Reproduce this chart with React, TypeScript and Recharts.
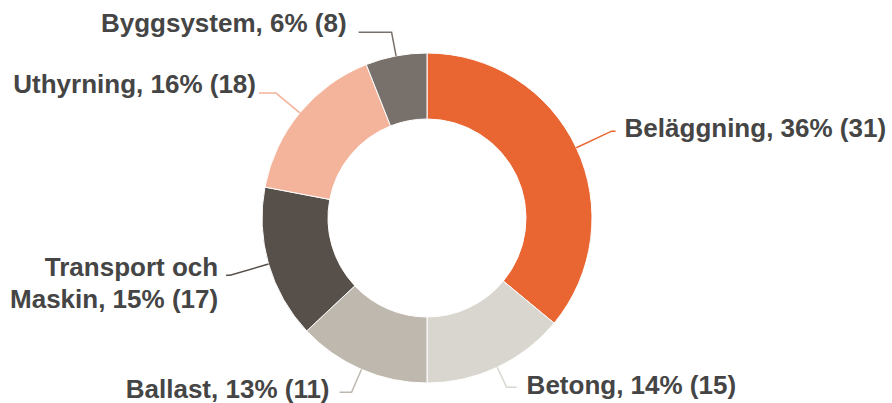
import { PieChart, Pie, Cell } from 'recharts';

const categories = ['Beläggning', 'Betong', 'Ballast', 'Transport och Maskin', 'Uthyrning', 'Byggsystem'];
const shares = [36, 14, 13, 15, 16, 6];
const counts = [31, 15, 11, 17, 18, 8];
const colors = ['#E96633', '#D9D5CF', '#BFB8AE', '#564F4A', '#F4B39B', '#78706B'];

// leader geometry per slice: radial extension, horizontal run, gap to text, text vertical shift
const leader = [
  { ext: 39, h: 4, gap: 9, dy: -3 },
  { ext: 22, h: 10, gap: 10, dy: -2 },
  { ext: 25, h: 12, gap: 10, dy: -3 },
  { ext: 40, h: 4, gap: 8, dy: -8 },
  { ext: 31, h: 17, gap: 3, dy: -9 },
  { ext: 24, h: 33, gap: 12, dy: -9 },
];

const data = categories.map((name, i) => ({ name, value: shares[i], count: counts[i] }));

const RAD = Math.PI / 180;
const TEXT = '#454545';

function renderLabel(props: any) {
  const { cx, cy, midAngle, outerRadius, index } = props;
  const cfg = leader[index];
  const cos = Math.cos(-midAngle * RAD);
  const sin = Math.sin(-midAngle * RAD);
  const sx = cx + outerRadius * cos;
  const sy = cy + outerRadius * sin;
  const ex = cx + (outerRadius + cfg.ext) * cos;
  const ey = cy + (outerRadius + cfg.ext) * sin;
  const dir = cos >= 0 ? 1 : -1;
  const hx = ex + dir * cfg.h;
  const tx = hx + dir * cfg.gap;
  const ty = ey + cfg.dy;
  const name = categories[index];
  const tail = `${shares[index]}% (${counts[index]})`;
  const parts = name.includes(' och ')
    ? [name.split(' och ')[0] + ' och', name.split(' och ')[1] + ', ' + tail]
    : [name + ', ' + tail];

  return (
    <g key={`lbl-${index}`}>
      <polyline points={`${sx},${sy} ${ex},${ey} ${hx},${ey}`} fill="none" stroke={colors[index]} strokeWidth={1.5} />
      <text
        x={tx}
        y={ty}
        textAnchor={dir > 0 ? 'start' : 'end'}
        fill={TEXT}
        fontSize={26}
        fontWeight="bold"
        fontFamily="'Liberation Sans', Arial, sans-serif"
        dominantBaseline="central"
      >
        {parts.map((p, k) => (
          <tspan key={k} x={tx} dy={k === 0 ? 0 : 32}>{p}</tspan>
        ))}
      </text>
    </g>
  );
}

export default function App() {
  return (
    <div style={{ position: 'absolute', left: 0, top: 0, width: 892, height: 403, background: '#fff' }}>
      <PieChart width={892} height={403} margin={{ top: 0, right: 0, bottom: 0, left: 0 }}>
        <Pie
          data={data}
          dataKey="value"
          nameKey="name"
          cx={427}
          cy={218}
          innerRadius={99}
          outerRadius={165}
          startAngle={90}
          endAngle={-270}
          stroke="#ffffff"
          strokeWidth={1}
          label={renderLabel}
          labelLine={false}
          isAnimationActive={false}
        >
          {data.map((d, i) => (
            <Cell key={d.name} fill={colors[i]} />
          ))}
        </Pie>
      </PieChart>
    </div>
  );
}
